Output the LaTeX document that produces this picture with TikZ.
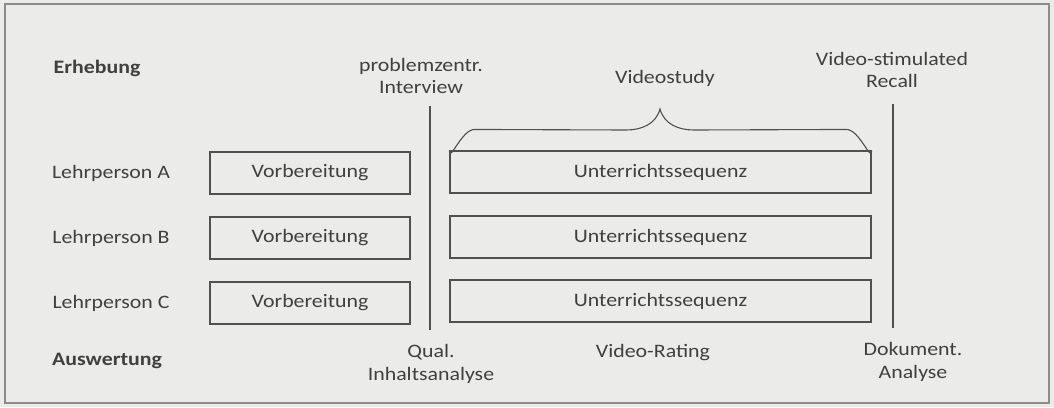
\documentclass[tikz,border=0pt]{standalone}
\usepackage{fontspec}
\setmainfont{Carlito}[FakeStretch=1.15]
\usepackage{xcolor}
\usepackage{tikz}
\usetikzlibrary{calc}

\definecolor{bggray}{HTML}{EBEBE9}
\definecolor{framegray}{HTML}{8C8C8C}
\definecolor{txtgray}{HTML}{404040}
\definecolor{linegray}{HTML}{505050}

\tikzset{
  lbl/.style = {text=txtgray, font=\fontsize{19}{22.5}\selectfont, align=center, inner sep=0pt},
  head/.style = {lbl, font=\fontsize{19}{22.5}\selectfont\bfseries},
  phasebox/.style = {lbl, draw=linegray, line width=1.1pt, minimum height=42pt},
  vorb/.style = {phasebox, minimum width=200pt},
  unter/.style = {phasebox, minimum width=421pt},
  divider/.style = {draw=linegray, line width=2pt}
}

\begin{document}
\begin{tikzpicture}[x=1pt, y=-1pt]
                \fill[bggray] (0,0) rectangle (1054,407);
                \useasboundingbox (0,0) rectangle (1054,407);
                \draw[framegray, line width=1.6pt] (5,4) rectangle (1049,403);
                
                % column heads
                \node (erh) [head] at (97,68) {Erhebung};
                \node (intv) [lbl] at (421,76) {problemzentr.\\Interview};
                \node (vstudy) [lbl] at (665,78) {Videostudy};
                \node (recall) [lbl] at (892,70) {Video-stimulated\\Recall};
                
                % teachers
                \node (lpA) [lbl] at (111,173) {Lehrperson A};
                \node (lpB) [lbl] at (111,238) {Lehrperson B};
                \node (lpC) [lbl] at (111,303) {Lehrperson C};
                
                \node (vA) [vorb] at (310,173) {Vorbereitung};
                \node (vB) [vorb] at (310,238) {Vorbereitung};
                \node (vC) [vorb] at (310,303) {Vorbereitung};
                
                \node (uA) [unter] at (660.5,172) {Unterrichtssequenz};
                \node (uB) [unter] at (660.5,237) {Unterrichtssequenz};
                \node (uC) [unter] at (660.5,301) {Unterrichtssequenz};
                
                % evaluation
                \node (ausw) [head] at (107,361) {Auswertung};
                \node (qual) [lbl] at (431,364) {Qual.\\Inhaltsanalyse};
                \node (vrating) [lbl] at (653,353) {Video-Rating};
                \node (dok) [lbl] at (913,362) {Dokument.\\Analyse};
                
                % dividers
                \coordinate (d1top) at (430,106);
                \coordinate (d1bot) at (430,330);
                \coordinate (d2top) at (893,104);
                \coordinate (d2bot) at (893,328);
                \draw[divider] (d1top) -- (d1bot);
                \draw[divider] (d2top) -- (d2bot);
                
                % brace over the lessons
                \coordinate (tip) at (660,109);
                \draw[linegray, line width=1.1pt]
                    (uA.north west) to[out=-90, in=180] ++(25,-21)
                    -- (626,130) to[out=0, in=-105] (tip)
                    to[out=-75, in=180] (694,130)
                    -- ($(uA.north east)+(-25,-21)$) to[out=0, in=-90] (uA.north east);
            \end{tikzpicture}
\end{document}
